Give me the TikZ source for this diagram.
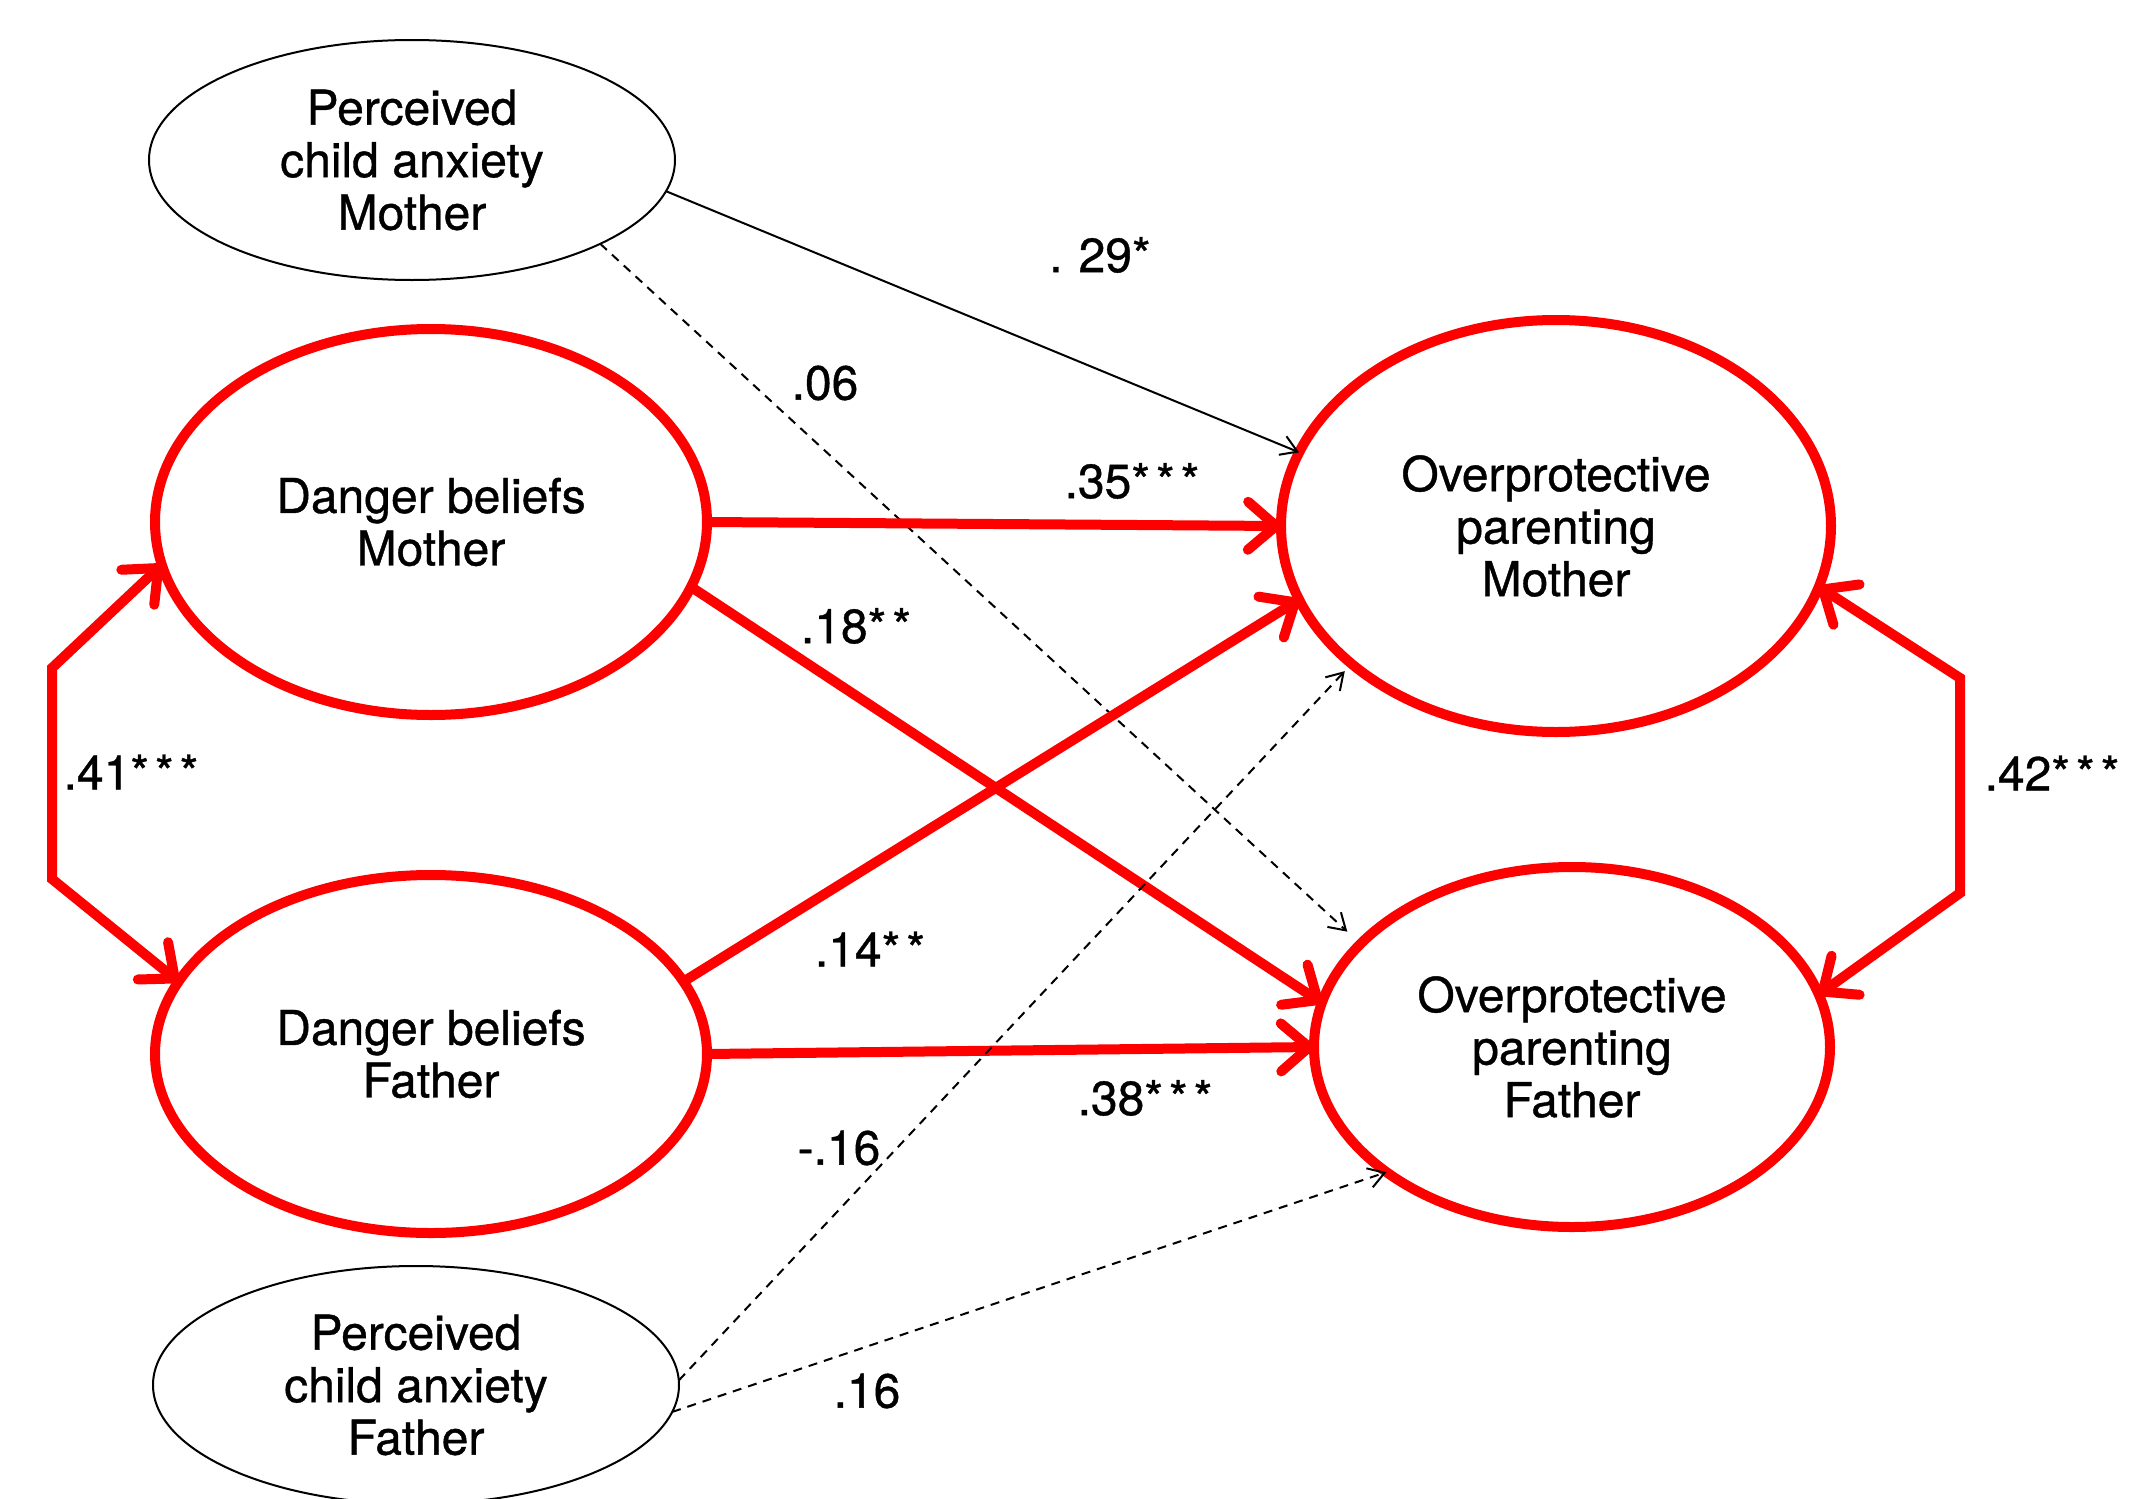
\documentclass[tikz,border=0pt]{standalone}
\usepackage{fontspec}
\setmainfont{TeX Gyre Heros}[BoldFont={TeX Gyre Heros},BoldFeatures={FakeBold=0.8}]
\usetikzlibrary{shapes.geometric,arrows.meta}
\newcommand\stB{*\kern3pt*}
\newcommand\stC{*\kern3pt*\kern3pt*}
\begin{document}
\begin{tikzpicture}[x=0.5pt,y=-0.5pt,
  txt/.style={font=\fontsize{24}{26.25}\selectfont\bfseries},
  lat/.style={ellipse, draw=red, line width=5pt, inner sep=0pt, outer sep=0pt, align=center, txt},
  obs/.style={ellipse, draw=black, line width=1pt, inner sep=0pt, outer sep=0pt, align=center, txt},
  redtip/.tip={Straight Barb[length=14pt,width=24pt,round]},
  blacktip/.tip={Straight Barb[length=8pt,width=10pt]},
  redarrow/.style={draw=red, line width=5pt, -redtip},
  redcorr/.style={draw=red, line width=5pt, redtip-redtip},
  thinarrow/.style={draw=black, line width=1pt, -blacktip},
  dasharrow/.style={thinarrow, dash pattern=on 4.5pt off 3.5pt},
  lab/.style={txt, inner sep=0pt}
]
\useasboundingbox (0,0) rectangle (2138,1499);

% nodes
\node[obs, minimum width=263pt, minimum height=120pt] (pcam) at (412,160) {Perceived\\child anxiety\\Mother};
\node[lat, minimum width=276pt, minimum height=193pt] (dm) at (431,522) {Danger beliefs\\Mother};
\node[lat, minimum width=276pt, minimum height=179pt] (df) at (431,1054) {Danger beliefs\\Father};
\node[obs, minimum width=263pt, minimum height=119pt] (pcaf) at (416,1385) {Perceived\\child anxiety\\Father};
\node[lat, minimum width=275pt, minimum height=206pt] (opm) at (1556,526) {Overprotective\\parenting\\Mother};
\node[lat, minimum width=258pt, minimum height=180pt] (opf) at (1572,1047) {Overprotective\\parenting\\Father};

% paths
\draw[thinarrow] (pcam.-7) -- (opm.164.6);
\draw[dasharrow, shorten >=9pt] (pcam.-24) -- (opf.154);
\draw[redarrow] (dm.0) -- (opm.180);
\draw[redarrow] (dm.-14) -- (opf.170);
\draw[redarrow] (df.16) -- (opm.196);
\draw[redarrow] (df.0) -- (opf.180);
\draw[dasharrow, shorten >=5pt] (pcaf.1) -- (opm.214);
\draw[dasharrow] (pcaf.-6.5) -- (opf.214.7);

% correlations
\coordinate (lc1) at (52,668);
\coordinate (lc2) at (52,879);
\draw[redcorr] (dm.189) -- (lc1) -- (lc2) -- (df.164);
\coordinate (rc1) at (1960,678);
\coordinate (rc2) at (1960,893);
\draw[redcorr] (opm.-13.5) -- (rc1) -- (rc2) -- (opf.12.4);

% labels
\node[lab] (l29) at (1100,255) {.\kern8pt 29*};
\node[lab] (l06) at (825,383) {.06};
\node[lab] (l35) at (1132,481) {.35\stC};
\node[lab] (l18) at (856,626) {.18\stB};
\node[lab] (l14) at (870,949) {.14\stB};
\node[lab] (l38) at (1145,1098) {.38\stC};
\node[lab] (lm16) at (839,1148) {-.16};
\node[lab] (l16) at (867,1391) {.16};
\node[lab] (l41) at (131,772) {.41\stC};
\node[lab] (l42) at (2052,773) {.42\stC};
\end{tikzpicture}
\end{document}
